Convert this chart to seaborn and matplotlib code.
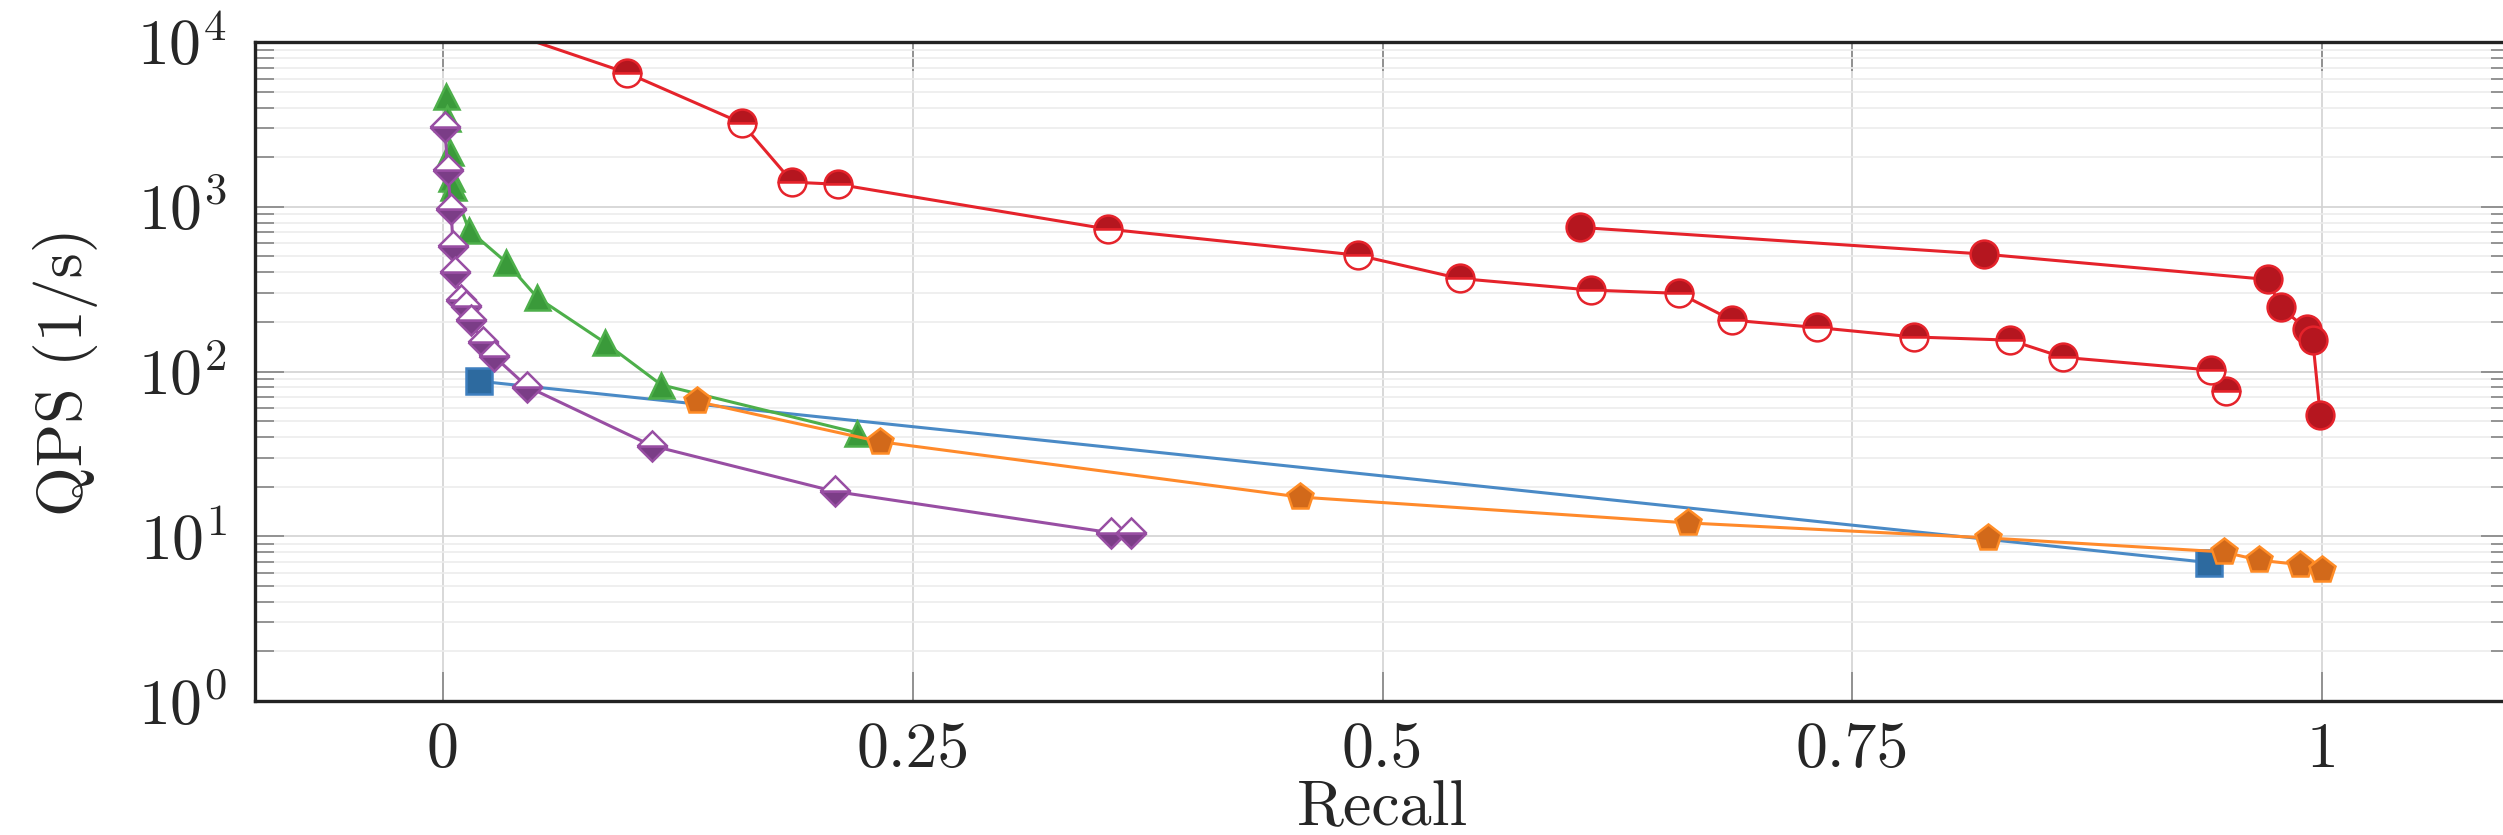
import matplotlib
matplotlib.use("Agg")
import matplotlib.pyplot as plt
import matplotlib.ticker as mticker
import seaborn as sns

# values (recall, queries per second)
red_half_recall = [0.02, 0.098, 0.159, 0.186, 0.210, 0.354, 0.487, 0.541, 0.611, 0.658,
                   0.686, 0.731, 0.783, 0.834, 0.862, 0.941, 0.949]
red_half_qps = [13000, 6490, 3220, 1410, 1370, 731, 508, 367, 312, 298,
                205, 185, 162, 155, 122, 102, 76.4]

red_full_recall = [0.605, 0.820, 0.971, 0.978, 0.992, 0.995, 0.999]
red_full_qps = [749, 516, 362, 245, 180, 156, 54.8]

blue_recall = [0.019, 0.940]
blue_qps = [87.4, 6.92]

green_recall = [0.0014, 0.0024, 0.0036, 0.0041, 0.0053, 0.0139, 0.0337, 0.0501,
                0.0861, 0.1162, 0.2203]
green_qps = [4690, 3440, 2150, 1490, 1320, 720, 460, 282, 150, 83, 42.5]

orange_recall = [0.1351, 0.2325, 0.456, 0.6625, 0.822, 0.9476, 0.9665, 0.9885, 0.9997]
orange_qps = [65.8, 37.5, 17.3, 12.05, 9.77, 8.03, 7.15, 6.73, 6.28]

purple_recall = [0.001, 0.0025, 0.0043, 0.0054, 0.0062, 0.0094, 0.0121, 0.0147,
                 0.0213, 0.0271, 0.0448, 0.111, 0.2085, 0.3555, 0.366]
purple_qps = [3030, 1680, 975, 580, 400, 271, 249, 204, 150, 124, 81, 35.5, 18.7, 10.5, 10.5]

x_ticks = [0, 0.25, 0.5, 0.75, 1]
x_tick_labels = ["0", "0.25", "0.5", "0.75", "1"]
y_ticks = [1, 10, 100, 1000, 10000]
y_tick_labels = [r"$10^{0}$", r"$10^{1}$", r"$10^{2}$", r"$10^{3}$", r"$10^{4}$"]

sns.set_theme(style="white")
plt.rcParams["font.family"] = ["cmr10", "DejaVu Serif"]
plt.rcParams["mathtext.fontset"] = "cm"
plt.rcParams["axes.formatter.use_mathtext"] = True
FS = 46

fig = plt.figure(figsize=(25.03, 8.35), dpi=100)
ax = fig.add_axes([255 / 2503, 1 - 701 / 835, 2255 / 2503, (701 - 42) / 835])

lw = 2.2
mew = 1.8

# red, half filled circles
sns.lineplot(x=red_half_recall, y=red_half_qps, ax=ax, sort=False, color="#e5232b",
             linewidth=lw, marker="o", markersize=20, fillstyle="top",
             markerfacecolor="#b5161f", markerfacecoloralt="white",
             markeredgecolor="#e5232b", markeredgewidth=mew)
# red, full circles
sns.lineplot(x=red_full_recall, y=red_full_qps, ax=ax, sort=False, color="#e5232b",
             linewidth=lw, marker="o", markersize=20,
             markerfacecolor="#b5161f", markeredgecolor="#e5232b", markeredgewidth=mew)
# blue squares
sns.lineplot(x=blue_recall, y=blue_qps, ax=ax, sort=False, color="#4a8ac6",
             linewidth=lw, marker="s", markersize=19,
             markerfacecolor="#2d6a9f", markeredgecolor="#3e7fbf", markeredgewidth=mew)
# green triangles
sns.lineplot(x=green_recall, y=green_qps, ax=ax, sort=False, color="#4daf4a",
             linewidth=lw, marker="^", markersize=18,
             markerfacecolor="#3a9a3a", markeredgecolor="#4daf4a", markeredgewidth=mew)
# orange pentagons
sns.lineplot(x=orange_recall, y=orange_qps, ax=ax, sort=False, color="#ff8a2b",
             linewidth=lw, marker="p", markersize=20,
             markerfacecolor="#d2691a", markeredgecolor="#ff8c26", markeredgewidth=mew)
# purple, half filled diamonds
sns.lineplot(x=purple_recall, y=purple_qps, ax=ax, sort=False, color="#984ea3",
             linewidth=lw, marker="D", markersize=15.5, fillstyle="bottom",
             markerfacecolor="#7b3d87", markerfacecoloralt="white",
             markeredgecolor="#984ea3", markeredgewidth=mew)

ax.set_yscale("log")
ax.set_xlim(-0.1, 1.1)
ax.set_ylim(1, 1e4)

ax.xaxis.set_major_locator(mticker.FixedLocator(x_ticks))
ax.xaxis.set_major_formatter(mticker.FixedFormatter(x_tick_labels))
ax.xaxis.set_minor_locator(mticker.NullLocator())
ax.yaxis.set_major_locator(mticker.FixedLocator(y_ticks))
ax.yaxis.set_major_formatter(mticker.FixedFormatter(y_tick_labels))
ax.yaxis.set_minor_locator(mticker.LogLocator(base=10, subs=range(2, 10), numticks=20))
ax.yaxis.set_minor_formatter(mticker.NullFormatter())

ax.grid(which="major", color="#d2d2d2", linewidth=1.2)
ax.grid(which="minor", axis="y", color="#ececec", linewidth=1.2)
ax.set_axisbelow(True)

ax.tick_params(which="major", direction="in", length=21, width=1.3, color="#8c8c8c",
               top=True, right=True, bottom=True, left=True, labelsize=FS)
ax.tick_params(which="minor", direction="in", length=14, width=1.3, color="#8c8c8c",
               top=True, right=True, bottom=False, left=True)
ax.tick_params(axis="x", which="major", pad=15)
ax.tick_params(axis="y", which="major", pad=20)

for side in ["left", "top", "bottom", "right"]:
    ax.spines[side].set_color("#222222")
    ax.spines[side].set_linewidth(2.4)

ax.set_xlabel("Recall", fontsize=FS, labelpad=0)
ax.set_ylabel("QPS (1/s)", fontsize=FS, labelpad=28)

fig.savefig("out.png", dpi=100)
